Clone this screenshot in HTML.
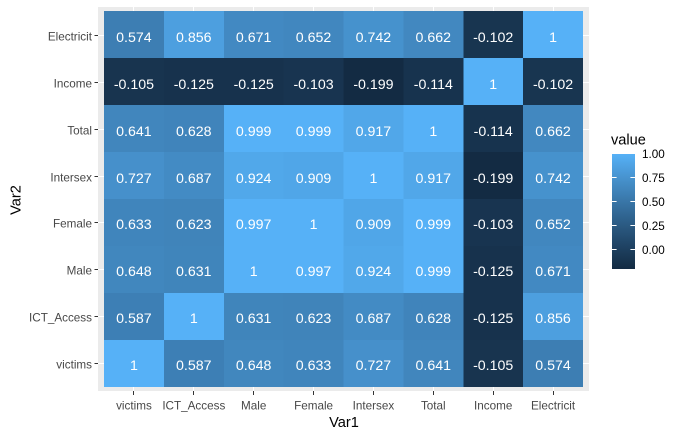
<!DOCTYPE html>
<html>
<head>
<meta charset="utf-8">
<title>Correlation heatmap</title>
<style>
html,body{margin:0;padding:0;background:#fff;}
svg{display:block;font-family:"Liberation Sans",Arial,sans-serif;}
</style>
</head>
<body>
<svg id="chart" width="680" height="437" viewBox="0 0 680 437" xmlns="http://www.w3.org/2000/svg">
  <rect x="0" y="0" width="680" height="437" fill="#ffffff"/>
  <rect x="98" y="7" width="491" height="384" fill="#EBEBEB"/>
  <g id="grid"></g>
  <g id="tiles" shape-rendering="crispEdges"></g>
  <g id="labels"></g>
  <g id="xaxis"></g>
  <g id="yaxis"></g>
  <text x="344" y="427" text-anchor="middle" font-size="14.6" fill="#000">Var1</text>
  <text transform="translate(20.5,200) rotate(-90)" text-anchor="middle" font-size="14.6" fill="#000">Var2</text>
  <g id="legend">
    <text x="611" y="144.5" font-size="14.6" fill="#000">value</text>
    <defs><linearGradient id="legendGradient" x1="0" y1="1" x2="0" y2="0"></linearGradient></defs>
    <rect id="legendBar" x="612" y="154" width="23" height="115" fill="url(#legendGradient)"/>
  </g>
</svg>
<script>
var xCategories = ["victims","ICT_Access","Male","Female","Intersex","Total","Income","Electricit"];
var yCategories = ["victims","ICT_Access","Male","Female","Intersex","Total","Income","Electricit"];
var rowVictims = ["1","0.587","0.648","0.633","0.727","0.641","-0.105","0.574"];
var rowIctAccess = ["0.587","1","0.631","0.623","0.687","0.628","-0.125","0.856"];
var rowMale = ["0.648","0.631","1","0.997","0.924","0.999","-0.125","0.671"];
var rowFemale = ["0.633","0.623","0.997","1","0.909","0.999","-0.103","0.652"];
var rowIntersex = ["0.727","0.687","0.924","0.909","1","0.917","-0.199","0.742"];
var rowTotal = ["0.641","0.628","0.999","0.999","0.917","1","-0.114","0.662"];
var rowIncome = ["-0.105","-0.125","-0.125","-0.103","-0.199","-0.114","1","-0.102"];
var rowElectricit = ["0.574","0.856","0.671","0.652","0.742","0.662","-0.102","1"];
var legendTicks = ["0.00","0.25","0.50","0.75","1.00"];
var colorDomain = [-0.199, 1];

var NS = "http://www.w3.org/2000/svg";
var rows = [rowVictims,rowIctAccess,rowMale,rowFemale,rowIntersex,rowTotal,rowIncome,rowElectricit];

/* axis functions */
function xBand(i){ return 104 + i * 59.875; }
function xCenter(i){ return xBand(i) + 29.94; }
function xTick(i){ return Math.floor(xCenter(i)) + 0.5; }
function yBand(j){ return 387 - (j + 1) * 47; }
function yTick(j){ return Math.floor(363.5 - j * 46.86) + 0.5; }
function legendY(v){ return 268.5 - (v - colorDomain[0]) / (colorDomain[1] - colorDomain[0]) * 115; }
function legendTickY(v){ return Math.floor(legendY(v)) + 0.5; }

/* colour scale: ggplot2 default gradient, interpolated in Lab */
function srgbToLin(c){ c/=255; return c<=0.04045 ? c/12.92 : Math.pow((c+0.055)/1.055,2.4); }
function linToSrgb(c){ c = c<=0.0031308 ? 12.92*c : 1.055*Math.pow(c,1/2.4)-0.055; return Math.max(0,Math.min(255,Math.round(c*255))); }
function rgbToLab(r,g,b){
  r=srgbToLin(r); g=srgbToLin(g); b=srgbToLin(b);
  var X=(0.4124564*r+0.3575761*g+0.1804375*b)/0.95047;
  var Y=(0.2126729*r+0.7151522*g+0.0721750*b);
  var Z=(0.0193339*r+0.1191920*g+0.9503041*b)/1.08883;
  function f(t){ return t>0.008856 ? Math.cbrt(t) : 7.787*t+16/116; }
  return [116*f(Y)-16, 500*(f(X)-f(Y)), 200*(f(Y)-f(Z))];
}
function labToRgb(L,a,b){
  var fy=(L+16)/116, fx=fy+a/500, fz=fy-b/200;
  function g(t){ return t*t*t>0.008856 ? t*t*t : (t-16/116)/7.787; }
  var X=g(fx)*0.95047, Y=g(fy), Z=g(fz)*1.08883;
  var r= 3.2404542*X-1.5371385*Y-0.4985314*Z;
  var gg=-0.9692660*X+1.8760108*Y+0.0415560*Z;
  var bb= 0.0556434*X-0.2040259*Y+1.0572252*Z;
  return "rgb("+linToSrgb(r)+","+linToSrgb(gg)+","+linToSrgb(bb)+")";
}
var lowLab = rgbToLab(0x13,0x2B,0x43);
var highLab = rgbToLab(0x56,0xB1,0xF7);
function colorAt(t){
  return labToRgb(lowLab[0]+(highLab[0]-lowLab[0])*t, lowLab[1]+(highLab[1]-lowLab[1])*t, lowLab[2]+(highLab[2]-lowLab[2])*t);
}
function colorScale(v){ return colorAt((v - colorDomain[0]) / (colorDomain[1] - colorDomain[0])); }

function mk(tag, attrs, parent, text){
  var el = document.createElementNS(NS, tag);
  for (var k in attrs) el.setAttribute(k, attrs[k]);
  if (text !== undefined) el.textContent = text;
  parent.appendChild(el);
  return el;
}

var gGrid = document.getElementById("grid");
var gTiles = document.getElementById("tiles");
var gLabels = document.getElementById("labels");
var gX = document.getElementById("xaxis");
var gY = document.getElementById("yaxis");
var gLegend = document.getElementById("legend");

xCategories.forEach(function(name, i){
  var g = mk("line", {x1:xTick(i), x2:xTick(i), y1:7, y2:391, stroke:"#ffffff", "stroke-width":1}, gGrid);
  
  
  var t = mk("line", {x1:xTick(i), x2:xTick(i), y1:391, y2:395, stroke:"#333333", "stroke-width":1}, gX);
  
  
  var l = mk("text", {x:xCenter(i), y:409.5, "text-anchor":"middle", "font-size":11.7, fill:"#484848"}, gX, name);
  
  
});

yCategories.forEach(function(name, j){
  var g = mk("line", {x1:98, x2:589, y1:yTick(j), y2:yTick(j), stroke:"#ffffff", "stroke-width":1}, gGrid);
  
  
  var t = mk("line", {x1:94.5, x2:98, y1:yTick(j), y2:yTick(j), stroke:"#333333", "stroke-width":1}, gY);
  
  
  var l = mk("text", {x:92, y:yTick(j)+5, "text-anchor":"end", "font-size":11.7, fill:"#484848"}, gY, name);
  
  
});

rows.forEach(function(row, j){
  row.forEach(function(label, i){
    var v = parseFloat(label);
    var r = mk("rect", {x:xBand(i), y:yBand(j), width:59.875, height:47, fill:colorScale(v)}, gTiles);
    
    
    var t = mk("text", {x:xCenter(i), y:yTick(j)+6.3, "text-anchor":"middle", "font-size":14.2, fill:"#ffffff"}, gLabels, label);
    
    
  });
});

/* legend */
var grad = document.getElementById("legendGradient");
for (var s = 0; s <= 20; s++) {
  mk("stop", {offset:(s/20), "stop-color":colorAt(s/20)}, grad);
}
legendTicks.forEach(function(label){
  var v = parseFloat(label);
  var y = legendTickY(v);
  if (v < 1) {
    var a = mk("line", {x1:612, x2:616.6, y1:y, y2:y, stroke:"#ffffff", "stroke-width":1}, gLegend);
    
    
    var b = mk("line", {x1:630.4, x2:635, y1:y, y2:y, stroke:"#ffffff", "stroke-width":1}, gLegend);
    
    
  }
  var t = mk("text", {x:642, y:y+4.5, "font-size":11.7, fill:"#000000"}, gLegend, label);
  
  
});
</script>
</body>
</html>
